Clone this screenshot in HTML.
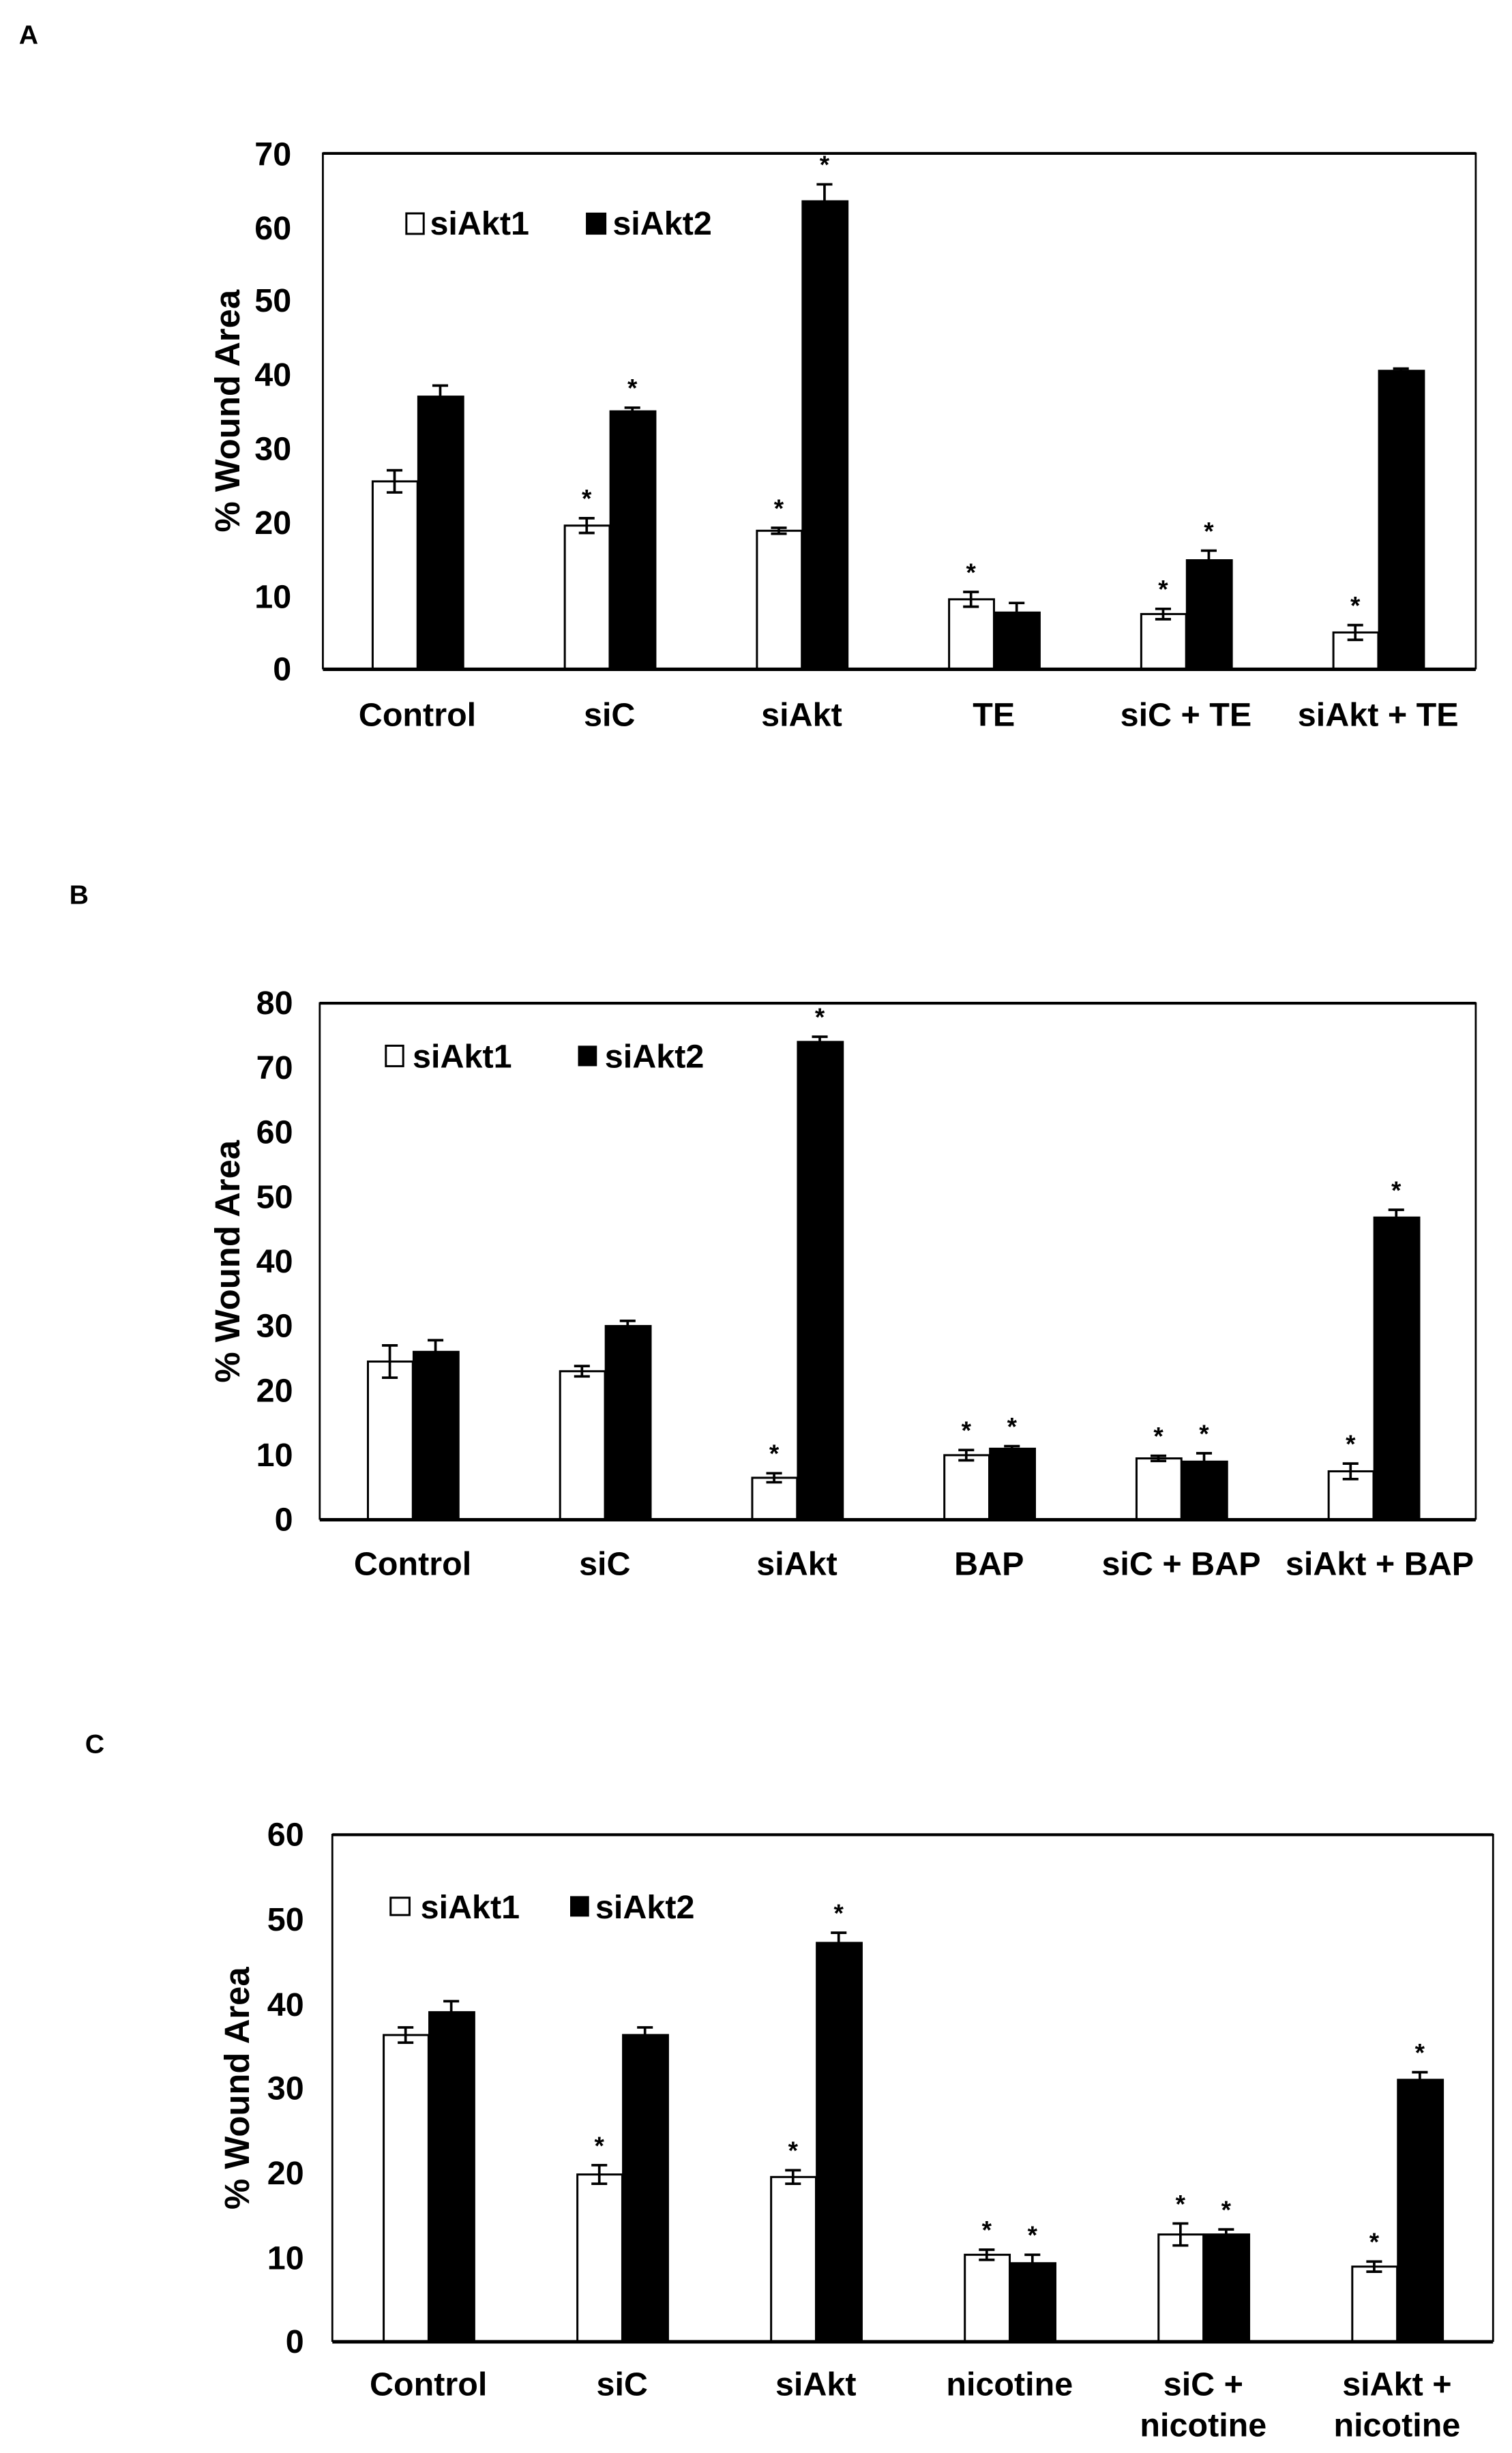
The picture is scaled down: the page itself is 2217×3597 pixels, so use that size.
<!DOCTYPE html>
<html><head><meta charset="utf-8"><style>
html,body{margin:0;padding:0;background:#fff;}
svg{display:block;}
text{font-family:"Liberation Sans",Arial,sans-serif;font-weight:bold;fill:#000;}
</style></head><body>
<svg id="s" width="2217" height="3597" viewBox="0 0 960 1557.6" xmlns="http://www.w3.org/2000/svg">
<rect x="0" y="0" width="960" height="1558" fill="#fff"/>
<text x="12" y="28" font-size="17">A</text>
<text x="44" y="574" font-size="17">B</text>
<text x="54" y="1113" font-size="17">C</text>

<!-- Panel A -->
<g font-size="21" text-anchor="end">
<text x="185" y="105">70</text><text x="185" y="152">60</text><text x="185" y="198">50</text>
<text x="185" y="245">40</text><text x="185" y="292">30</text><text x="185" y="339">20</text>
<text x="185" y="386">10</text><text x="185" y="432">0</text>
</g>
<text transform="translate(152,261) rotate(-90)" font-size="22" text-anchor="middle">% Wound Area</text>
<g font-size="21" text-anchor="middle">
<text x="265" y="461">Control</text><text x="387" y="461">siC</text><text x="509" y="461">siAkt</text>
<text x="631" y="461">TE</text><text x="753" y="461">siC + TE</text><text x="875" y="461">siAkt + TE</text>
</g>
<rect x="258" y="135.5" width="11" height="13" fill="#fff" stroke="#000" stroke-width="1.3"/>
<text x="273" y="149" font-size="21">siAkt1</text>
<rect x="372" y="135" width="13" height="14" fill="#000"/>
<text x="389" y="149" font-size="21">siAkt2</text>

<!-- Panel B -->
<g font-size="21" text-anchor="end">
<text x="186" y="644">80</text><text x="186" y="685">70</text><text x="186" y="726">60</text>
<text x="186" y="767">50</text><text x="186" y="808">40</text><text x="186" y="849">30</text>
<text x="186" y="890">20</text><text x="186" y="931">10</text><text x="186" y="972">0</text>
</g>
<text transform="translate(152,801) rotate(-90)" font-size="22" text-anchor="middle">% Wound Area</text>
<g font-size="21" text-anchor="middle">
<text x="262" y="1000">Control</text><text x="384" y="1000">siC</text><text x="506" y="1000">siAkt</text>
<text x="628" y="1000">BAP</text><text x="750" y="1000">siC + BAP</text><text x="876" y="1000">siAkt + BAP</text>
</g>
<rect x="245" y="664" width="11" height="13" fill="#fff" stroke="#000" stroke-width="1.3"/>
<text x="262" y="678" font-size="21">siAkt1</text>
<rect x="367" y="664" width="12" height="13" fill="#000"/>
<text x="384" y="678" font-size="21">siAkt2</text>

<!-- Panel C -->
<g font-size="21" text-anchor="end">
<text x="193" y="1172">60</text><text x="193" y="1226">50</text><text x="193" y="1280">40</text>
<text x="193" y="1333">30</text><text x="193" y="1387">20</text><text x="193" y="1441">10</text>
<text x="193" y="1494">0</text>
</g>
<text transform="translate(158,1326) rotate(-90)" font-size="22" text-anchor="middle">% Wound Area</text>
<g font-size="21" text-anchor="middle">
<text x="272" y="1521">Control</text><text x="395" y="1521">siC</text><text x="518" y="1521">siAkt</text>
<text x="641" y="1521">nicotine</text><text x="764" y="1521">siC +</text><text x="887" y="1521">siAkt +</text>
<text x="764" y="1547">nicotine</text><text x="887" y="1547">nicotine</text>
</g>
<rect x="248" y="1205" width="12" height="11" fill="#fff" stroke="#000" stroke-width="1.3"/>
<text x="267" y="1218" font-size="21">siAkt1</text>
<rect x="362" y="1204" width="12" height="13" fill="#000"/>
<text x="378" y="1218" font-size="21">siAkt2</text>
<g id="g"></g>
</svg>
<script>
var P=[
 {l:205,r:937,t:97.4,b:425,max:70,x0:265,sp:122,
  w:[[25.5,1.5],[19.5,1],[18.8,0.4],[9.5,1],[7.5,0.7],[5,1]],
  k:[[37,1.5],[35,0.5],[63.5,2.3],[7.7,1.3],[14.8,1.3],[40.5,0.3]],
  sw:[0,1,1,1,1,1],sk:[0,1,1,0,1,0]},
 {l:203,r:937,t:637,b:965,max:80,x0:262,sp:122,
  w:[[24.5,2.5],[23,0.8],[6.5,0.7],[10,0.8],[9.5,0.4],[7.5,1.2]],
  k:[[26,1.8],[30,0.8],[74,0.8],[11,0.4],[9,1.3],[46.8,1.2]],
  sw:[0,0,1,1,1,1],sk:[0,0,1,1,1,1]},
 {l:211,r:948,t:1165,b:1487,max:60,x0:272,sp:123,
  w:[[36.3,0.9],[19.8,1.1],[19.5,0.8],[10.3,0.6],[12.7,1.3],[8.9,0.6]],
  k:[[39,1.3],[36.3,0.9],[47.2,1.2],[9.3,1],[12.7,0.6],[31,0.9]],
  sw:[0,1,1,1,1,1],sk:[0,0,1,1,1,1]}
];
var g=document.getElementById('g'),h='';
P.forEach(function(p){
 var s=(p.b-p.t)/p.max;
 for(var i=0;i<6;i++){
  var c=p.x0+i*p.sp;
  [[p.w[i],c-29,'#fff',p.sw[i]],[p.k[i],c,'#000',p.sk[i]]].forEach(function(a){
   var v=a[0][0],e=a[0][1],x=a[1],y=p.b-v*s;
   h+='<rect x="'+(x+0.6)+'" y="'+y+'" width="28.5" height="'+(p.b-y)+'" fill="'+a[2]+'" stroke="#000" stroke-width="1.3"/>';
   var cx=x+14.5,y1=p.b-(v+e)*s,y2=p.b-(v-e)*s;
   h+='<path d="M'+cx+' '+y1+'V'+(a[2]=='#000'?y:y2)+'M'+(cx-5)+' '+y1+'H'+(cx+5)+(a[2]=='#000'?'':'M'+(cx-5)+' '+y2+'H'+(cx+5))+'" stroke="#000" stroke-width="1.6" fill="none"/>';
   if(a[3]) h+='<text x="'+cx+'" y="'+(y1-7)+'" font-size="16" text-anchor="middle">*</text>';
  });
 }
 h+='<path d="M'+p.l+' '+p.b+'V'+p.t+'H'+p.r+'V'+p.b+'" stroke="#000" stroke-width="1.2" fill="none"/>';
 h+='<line x1="'+p.l+'" y1="'+p.b+'" x2="'+p.r+'" y2="'+p.b+'" stroke="#000" stroke-width="2.2"/>';
 h+='<line x1="'+p.l+'" y1="'+p.t+'" x2="'+p.r+'" y2="'+p.t+'" stroke="#000" stroke-width="1.8"/>';
});
g.innerHTML=h;
</script>
</body></html>
